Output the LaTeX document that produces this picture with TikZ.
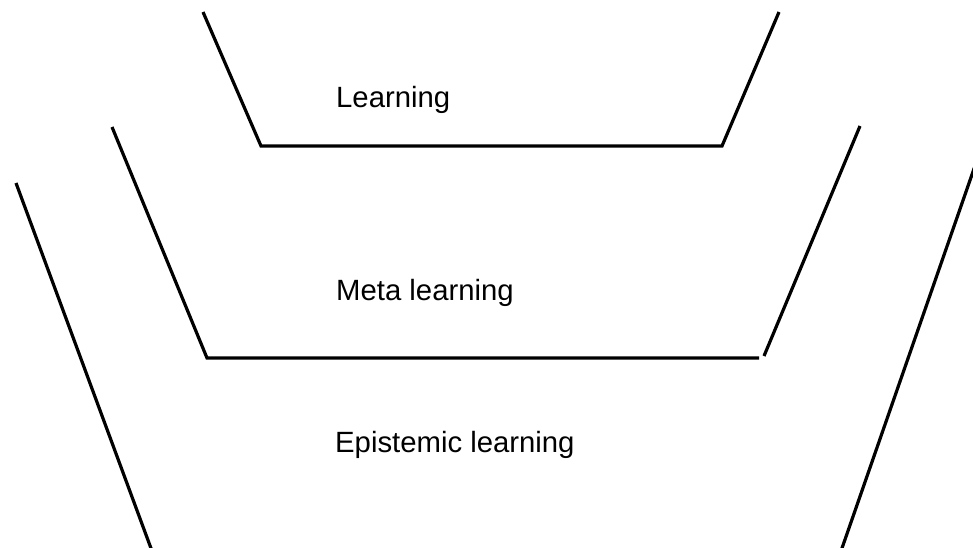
\documentclass[tikz,border=0pt]{standalone}
\usepackage{fontspec}
\setmainfont{Liberation Sans}
\begin{document}
\begin{tikzpicture}[x=1pt,y=-1pt,
  wall/.style={line width=3.2pt, black},
  lbl/.style={anchor=base west, inner sep=0pt, font=\fontsize{29.3}{34}\selectfont}]
\useasboundingbox (0,0) rectangle (973,547);
\clip (0,0) rectangle (973,547);
% top level
\coordinate (t1) at (203,12);
\coordinate (t2) at (261,146);
\coordinate (t3) at (722,146);
\coordinate (t4) at (779,12);
\draw[wall] (t1) -- (t2) -- (t3) -- (t4);
% middle level
\coordinate (m1) at (112,127);
\coordinate (m2) at (207,358);
\coordinate (m3) at (759,358);
\coordinate (m4) at (764,356);
\coordinate (m5) at (860,126);
\draw[wall] (m1) -- (m2) -- (m3);
\draw[wall] (m4) -- (m5);
% outer level
\coordinate (o1) at (16,183);
\coordinate (o2) at (152,551);
\coordinate (o3) at (841,551);
\coordinate (o4) at (976,163);
\draw[wall] (o1) -- (o2);
\draw[wall] (o3) -- (o4);
% labels
\node[lbl] (learn) at (336,107) {Learning};
\node[lbl] (meta) at (336,300) {Meta learning};
\node[lbl] (epi) at (335,452) {Epistemic learning};
\end{tikzpicture}
\end{document}
